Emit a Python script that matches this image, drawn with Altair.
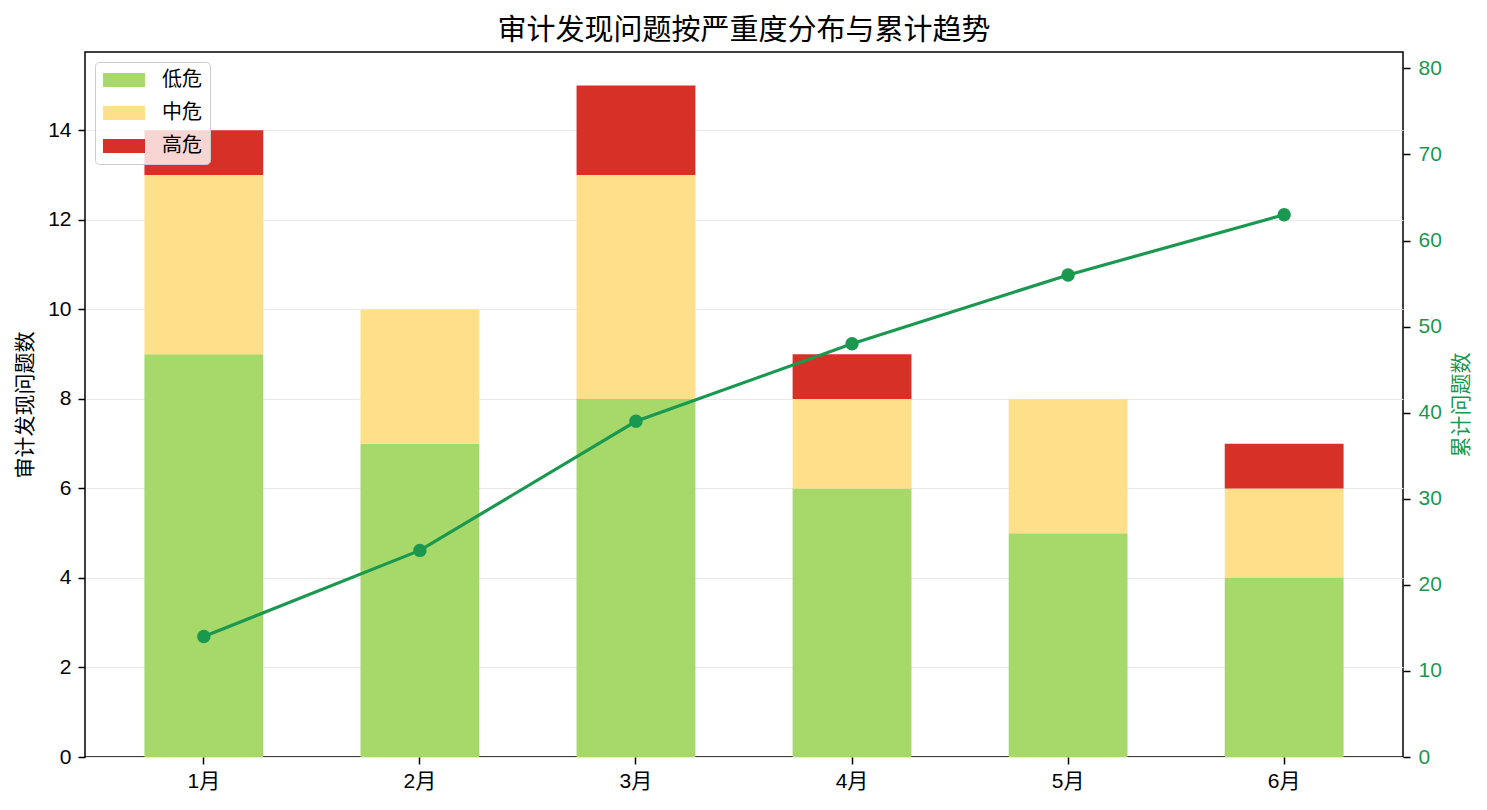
import altair as alt
import pandas as pd

months = ["1月", "2月", "3月", "4月", "5月", "6月"]
low = [9, 7, 8, 6, 5, 4]
mid = [4, 3, 5, 2, 3, 2]
high = [1, 0, 2, 1, 0, 1]
cumulative = [14, 24, 39, 48, 56, 63]
severities = ["低危", "中危", "高危"]
colors = ["#a6d96a", "#fee08b", "#d73027"]
line_color = "#1a9850"
left_ticks = [0, 2, 4, 6, 8, 10, 12, 14]
right_ticks = [0, 10, 20, 30, 40, 50, 60, 70, 80]

rows = []
for i, m in enumerate(months):
    for o, (s, vals) in enumerate(zip(severities, [low, mid, high])):
        rows.append({"month": m, "severity": s, "count": vals[i], "order": o})
bars_df = pd.DataFrame(rows)
line_df = pd.DataFrame({"month": months, "cum": cumulative})

FONT = "Liberation Sans, Arial, Noto Sans CJK SC, sans-serif"

x_enc = alt.X(
    "month:N", sort=months, title=None,
    scale=alt.Scale(paddingInner=0.45, paddingOuter=0.275),
    axis=alt.Axis(labelAngle=0, labelFontSize=21, labelColor="black", labelPadding=6,
                  tickSize=7, tickWidth=1.5, tickColor="black", domain=False, grid=False),
)

bars = alt.Chart(bars_df).mark_bar().encode(
    x=x_enc,
    y=alt.Y("count:Q", stack="zero",
            scale=alt.Scale(domain=[0, 15.75], nice=False, zero=True),
            axis=alt.Axis(values=left_ticks, title="审计发现问题数", titleFontSize=21,
                          titleFontWeight="normal", titleColor="black", titlePadding=12,
                          labelFontSize=21, labelColor="black", labelPadding=7,
                          tickSize=7, tickWidth=1.5, tickColor="black", domain=False,
                          grid=True, gridColor="#e8e8e8", gridWidth=1.2)),
    color=alt.Color("severity:N",
                    scale=alt.Scale(domain=severities, range=colors),
                    sort=severities,
                    legend=alt.Legend(title=None, orient="none", legendX=10, legendY=10,
                                      symbolType="M-3,-1H3V1H-3Z", symbolSize=196,
                                      symbolStrokeWidth=0, symbolOffset=11,
                                      labelFontSize=20, labelColor="black", labelOffset=28,
                                      padding=8, rowPadding=13,
                                      fillColor="rgba(255,255,255,0.8)", strokeColor="#cccccc",
                                      cornerRadius=4)),
    order=alt.Order("order:Q", sort="ascending"),
)

line = alt.Chart(line_df).mark_line(
    color=line_color, strokeWidth=3.2,
    point=alt.OverlayMarkDef(color=line_color, filled=True, size=180, opacity=1),
).encode(
    x=x_enc,
    y=alt.Y("cum:Q",
            scale=alt.Scale(domain=[0, 81.9], nice=False, zero=True),
            axis=alt.Axis(orient="right", values=right_ticks, title="累计问题数",
                          titleFontSize=21, titleFontWeight="normal", titleColor=line_color,
                          titleAngle=270, titleX=58, titleBaseline="middle",
                          labelFontSize=21, labelColor=line_color, labelPadding=8,
                          tickSize=7, tickWidth=1.5, tickColor="black", domain=False,
                          grid=False)),
)

chart = alt.layer(bars, line).resolve_scale(y="independent", color="independent").properties(
    width=1318, height=705,
    autosize=alt.AutoSizeParams(type="none"),
    padding={"left": 85, "top": 52, "right": 84, "bottom": 53},
    title=alt.TitleParams("审计发现问题按严重度分布与累计趋势", fontSize=29,
                          fontWeight="normal", font=FONT, color="black", offset=6),
).configure(font=FONT).configure_view(stroke="black", strokeWidth=1.5).configure_axis(
    labelFont=FONT, titleFont=FONT
).configure_legend(labelFont=FONT)

chart.save("out.html", embed_options={"renderer": "svg", "actions": False})
